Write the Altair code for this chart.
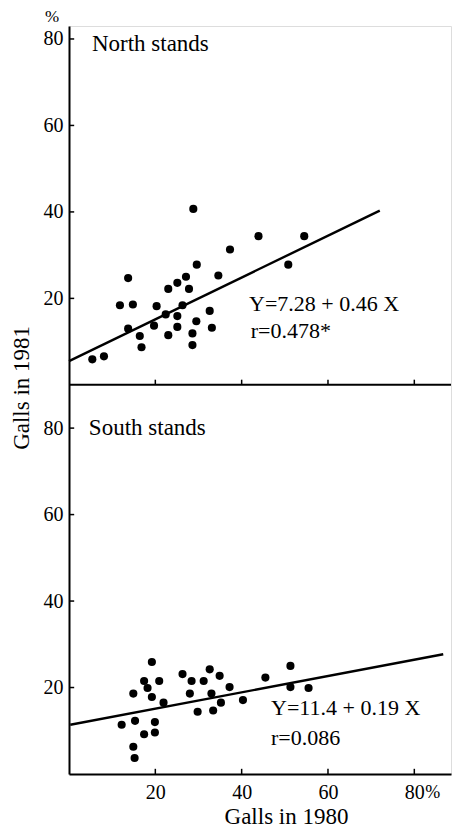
import altair as alt
import pandas as pd

# ---- data ----
north_x = [5.4, 8.1, 11.8, 13.7, 13.7, 14.8, 16.4, 16.8, 19.7, 20.3, 22.4, 23.0, 23.0,
           25.1, 25.1, 25.1, 26.3, 27.1, 27.8, 28.8, 28.6, 28.6, 29.5, 29.6, 32.6, 33.1,
           34.6, 37.3, 43.9, 50.8, 54.5]
north_y = [5.9, 6.6, 18.4, 24.7, 13.0, 18.6, 11.3, 8.7, 13.7, 18.2, 16.3, 22.2, 11.5,
           23.6, 15.9, 13.4, 18.4, 25.0, 22.2, 40.7, 11.9, 9.2, 14.7, 27.8, 17.1, 13.2,
           25.3, 31.3, 34.4, 27.8, 34.4]
north_line_x = [0, 72]
north_line_y = [5.5, 40.3]

south_x = [12.2, 14.9, 15.3, 14.9, 15.2, 17.4, 18.2, 19.2, 19.2, 17.4, 19.9, 19.9, 20.9,
           21.9, 26.3, 28.4, 28.0, 29.8, 31.2, 32.6, 33.0, 33.4, 34.9, 35.2, 37.2, 40.3,
           45.5, 51.3, 51.3, 55.5]
south_y = [11.4, 18.6, 12.3, 6.3, 3.7, 21.5, 19.9, 25.9, 17.8, 9.2, 12.0, 9.6, 21.5,
           16.5, 23.1, 21.5, 18.6, 14.4, 21.5, 24.2, 18.6, 14.7, 22.7, 16.5, 20.1, 17.1,
           22.3, 25.0, 20.1, 19.9]
south_line_x = [0.3, 86.7]
south_line_y = [11.4, 27.7]

tick_values = [20, 40, 60, 80]

north_title = "North stands"
north_eq = "Y=7.28 + 0.46 X"
north_r = "r=0.478*"
south_title = "South stands"
south_eq = "Y=11.4 + 0.19 X"
south_r = "r=0.086"
x_title = "Galls in 1980"
y_title = "Galls in 1981"

FONT = "Liberation Serif"
W = 382
H = 748
X_MAX = 88.5
OFF = 90          # the south panel spans 0..90, the north panel sits above it
Y_MAX = OFF + 83

def df(xs, ys, off):
    return pd.DataFrame({"x": xs, "y": [v + off for v in ys]})

north_pts = df(north_x, north_y, OFF)
north_ln = df(north_line_x, north_line_y, OFF)
south_pts = df(south_x, south_y, 0)
south_ln = df(south_line_x, south_line_y, 0)

y_ticks = pd.DataFrame({"y": tick_values + [v + OFF for v in tick_values]})
x_ticks = pd.DataFrame({"x": tick_values * 2,
                        "y": [0] * 4 + [OFF] * 4})
x_ticks["y2"] = x_ticks["y"] + 1.2
mid_axis = pd.DataFrame({"x": [0], "x2": [X_MAX], "y": [OFF]})

xs = alt.Scale(domain=[0, X_MAX], nice=False, zero=False)
ys = alt.Scale(domain=[0, Y_MAX], nice=False, zero=False)
xaxis = alt.Axis(values=tick_values, tickSize=0, domainWidth=2, domainColor="black",
                 labelFont=FONT, labelFontSize=20, labelColor="black", labelPadding=8,
                 labelFlush=False,
                 title=x_title, titleFont=FONT, titleFontSize=23, titleFontWeight="normal",
                 titleColor="black", titleX=217, titleY=49, titleAlign="center",
                 titleAnchor="start", titleBaseline="alphabetic", grid=False)
yaxis = alt.Axis(values=tick_values + [v + OFF for v in tick_values], tickSize=0,
                 domainWidth=2, domainColor="black",
                 labelExpr=f"datum.value > {OFF} ? format(datum.value - {OFF}, 'd') : datum.label",
                 labelFont=FONT, labelFontSize=20, labelColor="black", labelPadding=6,
                 labelFlush=False, title=None, grid=False)

X = lambda f="x": alt.X(f"{f}:Q", scale=xs, axis=xaxis)
Y = lambda f="y": alt.Y(f"{f}:Q", scale=ys, axis=yaxis)

layers = []
for pts, ln in [(north_pts, north_ln), (south_pts, south_ln)]:
    layers.append(alt.Chart(pts).mark_circle(size=66, color="black", opacity=1)
                  .encode(x=X(), y=Y()))
    layers.append(alt.Chart(ln).mark_line(color="black", strokeWidth=2.4)
                  .encode(x=X(), y=Y()))

# axis line separating the panels
layers.append(alt.Chart(mid_axis).mark_rule(color="black", strokeWidth=2)
              .encode(x=X(), x2="x2:Q", y=Y()))
# inward ticks
layers.append(alt.Chart(y_ticks).mark_rule(color="black", strokeWidth=1.5)
              .encode(y=Y(), x=alt.datum(0, scale=xs, axis=xaxis), x2=alt.datum(1.2)))
layers.append(alt.Chart(x_ticks).mark_rule(color="black", strokeWidth=1.5)
              .encode(x=X(), y=Y(), y2="y2:Q"))

def txt(s, x, y, size):
    return alt.Chart(pd.DataFrame({"t": [s]})).mark_text(
        font=FONT, fontSize=size, align="left", baseline="alphabetic", color="black"
    ).encode(x=alt.datum(x, scale=xs, axis=xaxis), y=alt.datum(y, scale=ys, axis=yaxis),
             text="t:N")

layers += [
    txt(north_title, 5.3, 77.3 + OFF, 23),
    txt(north_eq, 41.7, 17.1 + OFF, 22),
    txt(north_r, 42.1, 10.9 + OFF, 22),
    txt(south_title, 4.6, 78.5, 23),
    txt(south_eq, 46.8, 13.7, 22),
    txt(south_r, 46.8, 6.7, 22),
]

layers.append(alt.Chart(pd.DataFrame({"t": ["%"]})).mark_text(
    font=FONT, fontSize=17, align="center", baseline="middle", color="black"
).encode(x=alt.value(-17), y=alt.value(-9), text="t:N"))
layers.append(alt.Chart(pd.DataFrame({"t": ["%"]})).mark_text(
    font=FONT, fontSize=18, align="left", baseline="middle", color="black", dx=11
).encode(x=alt.datum(80, scale=xs, axis=xaxis), y=alt.value(H + 19), text="t:N"))
layers.append(alt.Chart(pd.DataFrame({"t": [y_title]})).mark_text(
    font=FONT, fontSize=23, align="center", baseline="middle", angle=270, color="black"
).encode(x=alt.value(-47), y=alt.datum(OFF - 0.7, scale=ys, axis=yaxis), text="t:N"))

chart = alt.layer(*layers).properties(
    width=W, height=H,
    padding={"left": 3, "top": 0, "right": 0, "bottom": 0}
).configure_view(stroke=None).configure(background="white")

chart.save("out.html", embed_options={"renderer": "svg", "actions": False})
